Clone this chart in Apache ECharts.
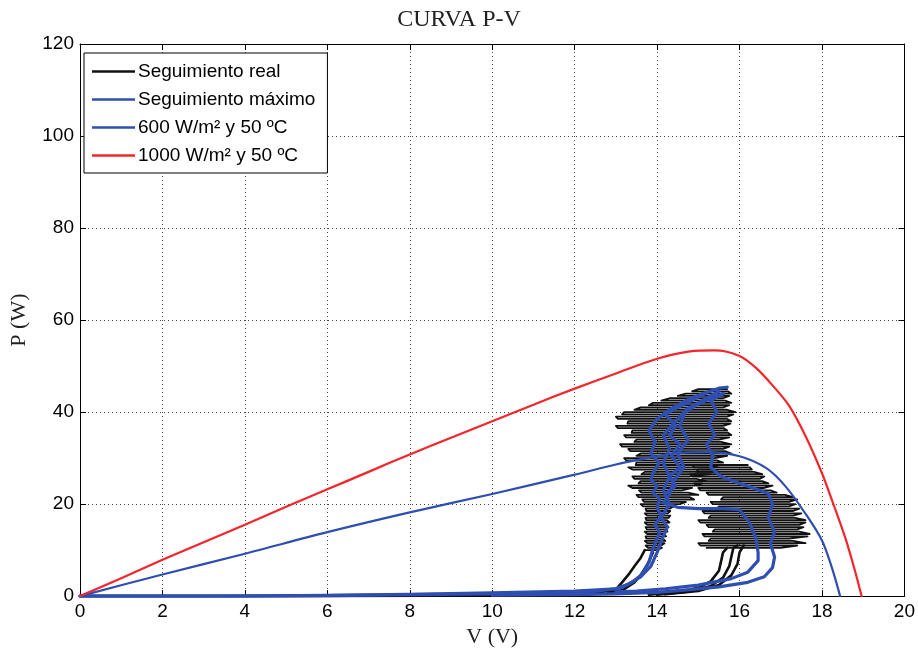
<!DOCTYPE html>
<html>
<head>
<meta charset="utf-8">
<script src="https://cdn.jsdelivr.net/npm/echarts@6/dist/echarts.min.js"></script>
<style>html,body{margin:0;padding:0;background:#fff}#c{width:918px;height:653px}</style>
</head>
<body>
<div id="c"></div>
<script>
// ---- data ----
const xTicks = [0,2,4,6,8,10,12,14,16,18,20];
const yTicks = [0,20,40,60,80,100,120];

// 1000 W/m2 y 50 ºC
const volt1000 = [0,1,2,3,4,5,6,7,8,9,10,11,12,13,14,14.8,15.4,16,16.4,16.8,17.2,17.6,18,18.24,18.56,18.8,18.96];
const pow1000  = [0,3.9,7.9,11.7,15.5,19.4,23.2,27,30.8,34.4,38,41.6,45.1,48.4,51.6,53.2,53.4,52.2,49.6,45.8,41.4,34.8,26.7,20.9,12.8,5.5,0];

// 600 W/m2 y 50 ºC
const volt600 = [0,2,4,6,8,10,12,13,13.6,14.4,15.2,16,16.65,17.12,17.6,18,18.24,18.44];
const pow600  = [0,4.7,9.2,13.9,18.2,22.2,26.4,28.6,29.7,31.0,31.3,30.4,27.8,23.8,17.9,12.1,6.2,0];

// Seguimiento real (black): oscillation rows [P, V left, V right]
const realBandRows = [
[10,13.70,14.00],[10.5,13.78,14.12],[11,13.72,14.10],[11.5,13.76,14.18],[12,13.70,14.20],[12.5,13.74,14.14],[13,13.72,14.22],[13.5,13.76,14.16],
[14,13.70,14.25],[14.5,13.75,14.20],[15,13.72,14.28],[15.5,13.76,14.22],[16,13.70,14.30],[16.5,13.74,14.24],[17,13.72,14.28],[17.5,13.76,14.32],
[18,13.70,14.26],[18.5,13.74,14.32],[19,13.72,14.30],[19.5,13.66,14.40],[20,13.60,14.55],[20.5,13.68,14.70],[21,13.64,14.90],[21.5,13.55,14.80],
[22,13.50,15.00],[22.5,13.62,14.75],[23,13.56,14.60],[23.5,13.40,14.85],[24,13.30,14.90],[24.5,13.55,15.10],[25,13.60,15.20],[25.5,13.45,14.95],
[26,13.40,14.80],[26.5,13.62,15.30],[27,13.70,15.50],[27.5,13.40,15.35],[28,13.30,15.30],[28.5,13.48,15.55],[29,13.50,15.60],[29.5,13.25,15.45],
[30,13.20,15.40],[30.5,13.50,15.70],[31,13.60,15.80],[31.5,13.35,15.65],[32,13.30,15.60],[32.5,13.15,15.75],[33,13.10,15.80],[33.5,13.45,15.55],
[34,13.50,15.50],[34.5,13.25,15.75],[35,13.20,15.80],[35.5,13.38,15.72],[36,13.40,15.70],[36.5,13.05,15.62],[37,13.00,15.60],[37.5,13.28,15.78],
[38,13.30,15.80],[38.5,13.05,15.70],[39,13.00,15.70],[39.5,13.15,15.85],[40,13.20,15.90],[40.5,13.45,15.70],[41,13.60,15.60],[41.5,13.80,15.75],
[42,13.90,15.80],[42.5,14.10,15.65],[43,14.30,15.60],[43.5,14.50,15.75],[44,14.70,15.80],[44.5,14.85,15.72],[45,15.00,15.70]];
const realRightRows = [
[10.5,15.20,17.00],[11,15.05,17.40],[11.5,15.00,17.60],[12,15.25,17.30],[12.5,15.30,17.20],[13,15.15,17.65],[13.5,15.10,17.70],[14,15.35,17.45],
[14.5,15.40,17.40],[15,15.25,17.55],[15.5,15.20,17.45],[16,15.05,17.60],[16.5,15.00,17.60],[17,15.25,17.35],[17.5,15.30,17.30],[18,15.15,17.50],
[18.5,15.10,17.30],[19,15.45,17.45],[19.5,15.50,17.20],[20,15.35,17.35],[20.5,15.30,17.20],[21,15.55,17.40],[21.5,15.60,17.30],[22,15.25,17.10],
[22.5,15.20,16.90],[23,15.05,16.75],[23.5,15.00,16.60],[24,14.95,16.80],[24.5,14.90,16.70],[25,15.05,16.55],[25.5,15.10,16.50],[26,14.85,16.60],
[26.5,14.80,16.55],[27,14.95,16.35],[27.5,15.00,16.30],[28,14.90,16.25],[28.5,14.85,16.20]];
// Seguimiento real start-up paths [V, P]
const realStart = [[0,0],[3,0],[6,0],[8.5,0.1],[10,0.2],[11.5,0.4],[12.5,0.7],[13.0,1.4],[13.15,3],[13.3,4.6],[13.45,6.5],[13.6,8.3],[13.7,10]];
const realLeft = [[12.8,0.6],[13.2,1.5],[13.45,3],[13.65,5],[13.8,7.5],[13.9,9.5]];
const realSmall1 = [[13.8,0.3],[14.5,0.9],[15.0,1.8],[15.3,3.2],[15.5,5.5],[15.55,7.5],[15.6,9.5],[15.7,10.5]];
const realSmall2 = [[14.0,0.3],[14.8,1.0],[15.3,2.2],[15.6,4],[15.75,6.5],[15.8,8.5],[15.85,10.5],[15.95,11]];
const realSmall3 = [[14.2,0.4],[15.0,1.1],[15.5,2.4],[15.8,4.5],[15.95,7],[16.0,9.5],[16.1,11]];

// Seguimiento máximo (blue) paths [V, P]
const maxPath1 = [[0,0],[3,0],[6,0.1],[8,0.3],[10,0.5],[11.5,0.8],[12.5,1.1],[13.1,1.7],[13.4,3],[13.6,4.5],[13.8,7.3],[13.9,10.3],[14.06,13.8],[13.95,15.5],[14.1,17.4],[14.0,19.2],[14.06,21.1],[13.9,22.5],[14.0,23.9],[13.85,25.3],[13.9,26.7],[14.05,29],[13.85,31],[13.95,33.5],[13.8,36],[14.0,38.5],[14.3,40.5],[14.7,42.5],[15.1,44],[15.5,45.2],[15.7,45.4]];
const maxPath2 = [[0,0],[4,0],[6,0.15],[8,0.4],[10,0.7],[12,1.1],[13,1.6],[13.3,2.6],[13.6,4.2],[13.85,6.5],[14.0,9.5],[14.15,13],[14.25,15],[14.1,17],[14.3,20],[14.15,23],[14.3,26],[14.15,29],[14.3,32],[14.15,35],[14.4,37.5],[14.6,39.5],[14.95,41.5],[15.3,43],[15.6,44]];
const maxPath3 = [[15.6,44],[15.3,42.5],[15.45,40],[15.25,37.5],[15.4,35],[15.2,33],[15.35,30.5],[15.3,28],[15.55,26],[16.0,24.5],[16.4,23.3],[16.7,22.3],[16.8,20],[16.7,17],[16.85,14],[16.75,11.4],[16.85,8.5],[16.8,6.2],[16.6,4.2],[16.2,3.0],[15.5,2.0],[14.8,1.4],[14.0,0.8],[13,0.5],[12,0.3],[10,0.2]];
const maxPath4 = [[15.5,44.5],[14.9,41.5],[14.7,40.5],[14.55,37],[14.75,34],[14.5,31],[14.65,28],[14.4,25],[14.3,22],[14.15,20.3],[14.5,19.3],[15,19],[15.6,19],[16.0,18.8],[16.25,15.8],[16.4,12.5],[16.45,9.5],[16.45,7.7],[16.2,5.2],[15.8,3.8],[15.0,2.4],[14.2,1.6],[13.5,1.1],[13,0.9]];
const maxPath5 = [[15.2,44.2],[14.5,41],[14.2,39.5],[14.45,37],[14.3,35],[14.55,33],[14.35,30.5],[14.55,28],[14.3,26],[14.45,24],[14.25,22.5]];

const names = ['Seguimiento real','Seguimiento máximo','600 W/m² y 50 ºC','1000 W/m² y 50 ºC'];
const BLACK = '#111111', BLUE = '#2f4eb2', RED = '#f2262b';

function pairs(xs, ys){ return xs.map((x,i)=>[x, ys[i]]); }
function zigzag(rows){
  const out = [];
  rows.forEach((r,i)=>{ if(i%2===0){ out.push([r[1],r[0]],[r[2],r[0]]); } else { out.push([r[2],r[0]],[r[1],r[0]]); } });
  return out;
}
function line(name, data, color, width, z, smooth){
  return {type:'line', name, data, showSymbol:false, symbol:'none', animation:false, z:z||2, smooth:smooth||false,
    lineStyle:{color, width, join:'round', cap:'round'}, itemStyle:{color}};
}

const series = [];
[zigzag(realBandRows), zigzag(realRightRows)].forEach(p=>series.push(line(names[0], p, BLACK, 1.8, 2)));
[realStart, realLeft, realSmall1, realSmall2, realSmall3].forEach(p=>series.push(line(names[0], p, BLACK, 2.6, 2)));
series.push(line(names[2], pairs(volt600, pow600), BLUE, 2.2, 3, 0.3));
[maxPath1, maxPath2, maxPath3, maxPath4, maxPath5].forEach(p=>series.push(line(names[1], p, BLUE, 3.2, 3)));
series.push(line(names[3], pairs(volt1000, pow1000), RED, 2.2, 4, 0.3));

const sans = 'Liberation Sans, Arial, sans-serif';
const serif = 'Liberation Serif, Times New Roman, serif';
const gridLine = {show:true, lineStyle:{color:'#444', width:1, type:[1,3]}};
const axLine = {show:true, onZero:false, lineStyle:{color:'#000', width:1}};
const tick = {show:true, inside:true, length:6, lineStyle:{color:'#000'}};

const chart = echarts.init(document.getElementById('c'), null, {renderer:'canvas'});
chart.setOption({
  backgroundColor:'#fff',
  animation:false,
  title:{text:'CURVA P-V', left:'center', top:3, textStyle:{fontFamily:serif, fontWeight:'normal', fontSize:24, color:'#222'}},
  grid:{left:78, right:12, top:44, bottom:52},
  legend:{data:names, orient:'vertical', left:84, top:53, icon:'rect', itemWidth:43, itemHeight:2.5, itemGap:9,
    padding:[9,12,8,8], backgroundColor:'#fff', borderColor:'#000', borderWidth:1, selectedMode:false,
    textStyle:{fontFamily:sans, fontSize:19, color:'#000', padding:[0,0,0,-2]}},
  xAxis:[
    {type:'value', min:0, max:20, interval:2, axisLine:axLine, axisTick:tick,
      axisLabel:{fontFamily:sans, fontSize:19, color:'#000', margin:6, formatter:v=>xTicks.includes(v)?String(v):''},
      splitLine:gridLine, name:'V (V)', nameLocation:'middle', nameGap:27,
      nameTextStyle:{fontFamily:serif, fontSize:22, color:'#222'}},
    {type:'value', position:'top', min:0, max:20, interval:2, axisLine:axLine, axisTick:tick, axisLabel:{show:false}, splitLine:{show:false}}
  ],
  yAxis:[
    {type:'value', min:0, max:120, interval:20, axisLine:axLine, axisTick:tick,
      axisLabel:{fontFamily:sans, fontSize:19, color:'#000', margin:6, formatter:v=>yTicks.includes(v)?String(v):''},
      splitLine:gridLine, name:'P (W)', nameLocation:'middle', nameGap:50,
      nameTextStyle:{fontFamily:serif, fontSize:22, color:'#222'}},
    {type:'value', position:'right', min:0, max:120, interval:20, axisLine:axLine, axisTick:tick, axisLabel:{show:false}, splitLine:{show:false}}
  ],
  series: series
});
</script>
</body>
</html>
